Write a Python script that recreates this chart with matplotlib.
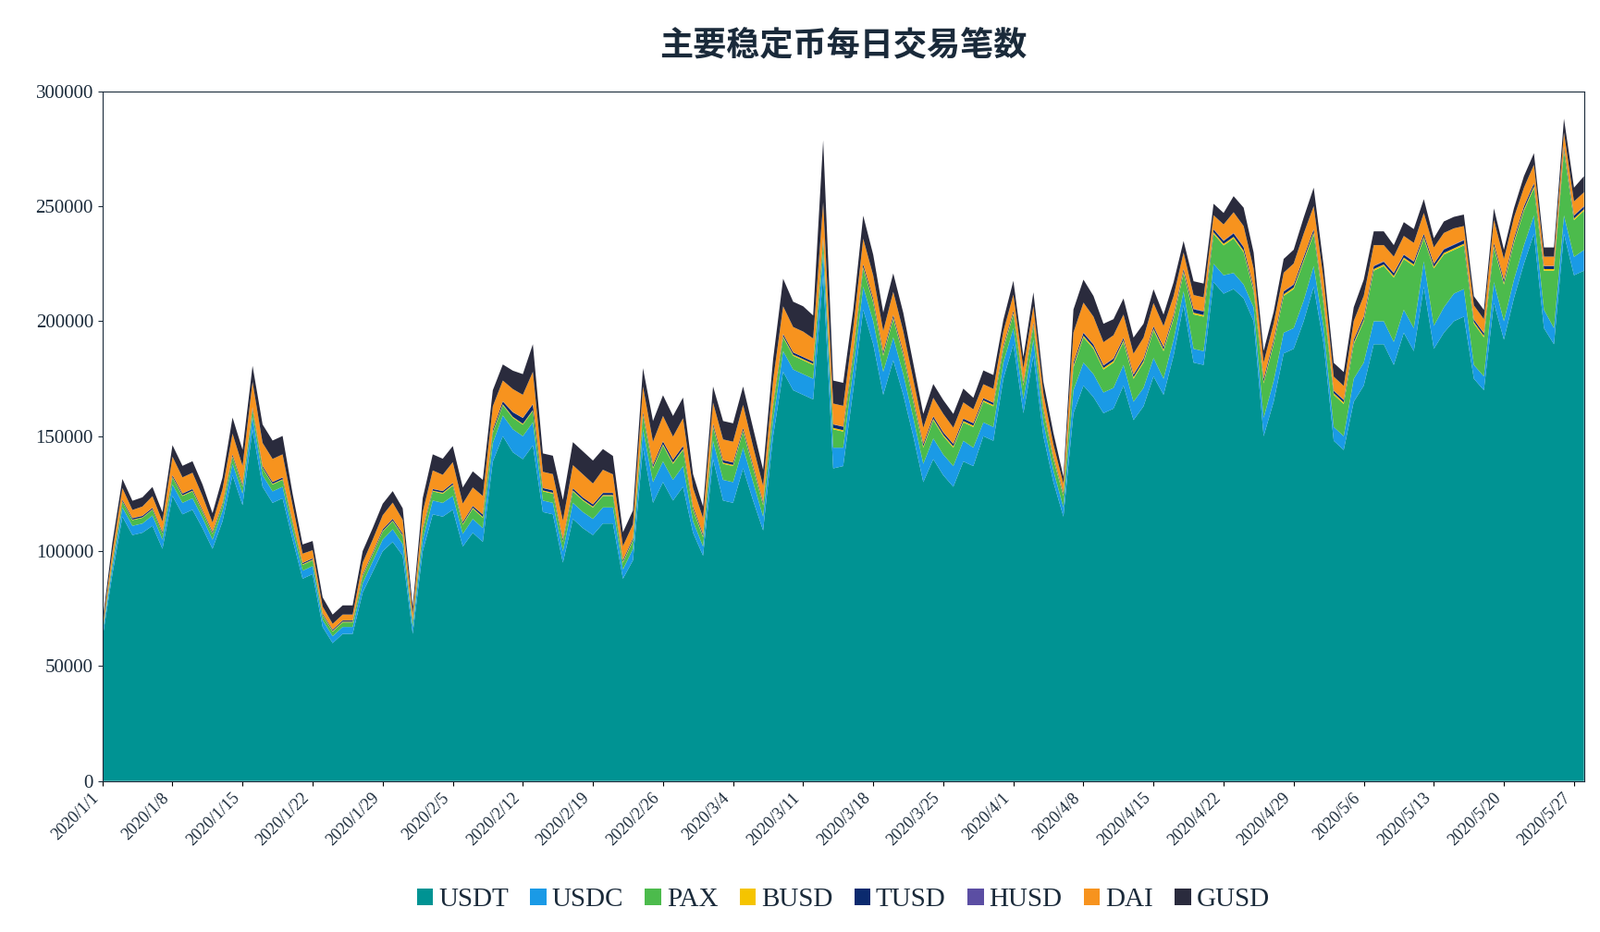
import datetime as dt
import matplotlib.pyplot as plt

start = dt.date(2020, 1, 1)
usdt = [62000, 90000, 115000, 107000, 108000, 111000, 101000, 124000, 116000, 118000,
        110000, 101000, 113000, 133000, 120000, 153000, 128000, 121000, 123000, 105000,
        88000, 90000, 67000, 60000, 64000, 64000, 82000, 91000, 100000, 104000,
        98000, 64000, 100000, 116000, 115000, 118000, 102000, 108000, 104000, 139000,
        150000, 143000, 140000, 146000, 117000, 116000, 95000, 114000, 110000, 107000,
        112000, 112000, 88000, 96000, 145000, 121000, 130000, 122000, 128000, 108000,
        98000, 140000, 122000, 121000, 136000, 122000, 109000, 150000, 178000, 170000,
        168000, 166000, 220000, 136000, 137000, 170000, 205000, 190000, 168000, 183000,
        168000, 150000, 130000, 140000, 133000, 128000, 139000, 137000, 150000, 148000,
        175000, 190000, 160000, 185000, 150000, 130000, 115000, 160000, 172000, 167000,
        160000, 162000, 172000, 157000, 163000, 176000, 168000, 185000, 207000, 182000,
        181000, 217000, 212000, 214000, 210000, 200000, 150000, 165000, 186000, 188000,
        200000, 215000, 190000, 148000, 144000, 165000, 172000, 190000, 190000, 181000,
        195000, 187000, 215000, 188000, 195000, 200000, 202000, 175000, 170000, 208000,
        192000, 210000, 225000, 238000, 197000, 190000, 238000, 220000, 222000]
usdc = [2000, 3000, 4000, 4000, 4000, 4500, 4000, 5000, 5000, 5000,
        4500, 4000, 4500, 5000, 5000, 5500, 5000, 5000, 5000, 4000,
        3500, 3500, 3000, 3000, 3000, 3000, 4000, 4500, 5000, 5500,
        5000, 3000, 5000, 6000, 6000, 6000, 5500, 6000, 6000, 8000,
        9000, 10000, 10000, 10000, 5000, 5000, 5000, 7000, 7000, 7000,
        7000, 7000, 4000, 5000, 8000, 9000, 9000, 9000, 9000, 5000,
        4000, 8000, 9000, 9000, 9000, 8000, 6000, 7000, 9000, 9000,
        9000, 9000, 10000, 9000, 8000, 9000, 10000, 10000, 10000, 10000,
        9000, 8000, 8000, 9000, 9000, 9000, 9000, 8000, 6000, 6000,
        7000, 7000, 6000, 7000, 6000, 5000, 4000, 10000, 10000, 10000,
        9000, 9000, 9000, 8000, 8000, 8000, 7000, 7000, 6000, 6000,
        6000, 8000, 8000, 7000, 6000, 6000, 8000, 9000, 9000, 9000,
        9000, 9000, 7000, 6000, 6000, 10000, 10000, 10000, 10000, 10000,
        10000, 10000, 11000, 10000, 11000, 12000, 12000, 6000, 6000, 9000,
        8000, 8000, 8000, 8000, 8000, 7000, 8000, 8000, 9000]
pax = [1000, 2000, 2500, 2500, 2500, 2500, 2500, 3000, 3000, 3000,
       2500, 2500, 2500, 3000, 3000, 3000, 3000, 3000, 3000, 3000,
       2500, 2500, 2000, 2000, 2000, 2000, 3000, 3000, 3500, 3500,
       3500, 2000, 4000, 4000, 4000, 4500, 4000, 4500, 4500, 4500,
       4500, 5000, 5000, 5000, 4000, 4000, 4000, 5000, 5000, 5000,
       5000, 5000, 3000, 3500, 6000, 6000, 7000, 7000, 7000, 5000,
       4000, 6000, 7000, 7000, 7000, 6000, 5000, 6000, 6000, 6000,
       6000, 6000, 5000, 8000, 7000, 6000, 8000, 8000, 7000, 8000,
       8000, 7000, 7000, 8000, 8000, 8000, 8000, 9000, 9000, 9000,
       6000, 6000, 6000, 6000, 5000, 5000, 5000, 10000, 11000, 11000,
       10000, 11000, 10000, 10000, 11000, 12000, 12000, 9000, 8000, 15000,
       15000, 13000, 13000, 15000, 14000, 7000, 15000, 16000, 16000, 17000,
       17000, 14000, 10000, 14000, 14000, 15000, 18000, 22000, 24000, 28000,
       22000, 27000, 10000, 25000, 23000, 19000, 19000, 18000, 17000, 15000,
       16000, 16000, 15000, 12000, 17000, 25000, 28000, 16000, 17000]
busd = [100, 200, 200, 200, 200, 200, 200, 300, 300, 300,
        300, 300, 300, 300, 300, 300, 300, 300, 300, 300,
        300, 300, 300, 300, 300, 300, 300, 300, 300, 300,
        300, 300, 300, 300, 400, 400, 400, 400, 400, 400,
        400, 400, 400, 400, 400, 400, 400, 400, 400, 400,
        400, 400, 400, 400, 500, 500, 500, 500, 500, 500,
        500, 500, 500, 500, 500, 500, 500, 500, 500, 500,
        500, 500, 600, 600, 600, 600, 600, 600, 600, 600,
        600, 600, 600, 600, 600, 600, 600, 600, 600, 600,
        600, 600, 600, 600, 600, 600, 600, 700, 700, 700,
        700, 700, 700, 700, 700, 700, 700, 700, 700, 700,
        700, 700, 700, 700, 700, 700, 700, 700, 700, 700,
        700, 700, 700, 700, 700, 700, 700, 700, 700, 700,
        700, 700, 700, 700, 700, 700, 700, 700, 700, 700,
        700, 700, 700, 700, 700, 700, 700, 700, 700]
tusd = [300, 500, 600, 600, 600, 600, 600, 700, 700, 700,
        600, 600, 600, 700, 700, 700, 700, 700, 700, 600,
        500, 500, 500, 500, 500, 500, 600, 600, 700, 700,
        700, 500, 700, 700, 700, 700, 700, 700, 1000, 1000,
        1200, 2000, 2500, 2500, 1000, 1000, 800, 900, 900, 900,
        900, 900, 700, 700, 1000, 1000, 1200, 1200, 1200, 900,
        800, 1000, 1000, 1000, 1000, 900, 800, 900, 900, 900,
        900, 900, 1000, 1500, 1500, 1200, 1200, 1200, 1100, 1100,
        1000, 1000, 1000, 1000, 1000, 1000, 1000, 1000, 900, 900,
        900, 900, 800, 900, 800, 700, 700, 1200, 1200, 1100,
        1000, 1000, 1000, 1000, 1000, 1000, 1000, 1000, 1000, 1500,
        1500, 1200, 1200, 1500, 1500, 1000, 1200, 1200, 1200, 1200,
        1200, 1200, 1000, 1000, 1000, 1200, 1200, 1200, 1200, 1200,
        1200, 1200, 1200, 1200, 1500, 1500, 1500, 1000, 1000, 1200,
        1200, 1200, 1200, 1200, 1200, 1200, 1200, 1200, 1200]
husd = [100] * 97 + [200] * 52
dai = [1500, 4000, 5000, 3500, 4000, 5000, 4500, 8000, 7000, 7000,
       6000, 4000, 6000, 9000, 8000, 11000, 10000, 10000, 10000, 7000,
       4000, 3500, 3000, 2500, 2500, 2500, 5000, 5500, 6000, 7000,
       6000, 3000, 7000, 8000, 7000, 9000, 8000, 8000, 8000, 10000,
       9000, 10000, 10000, 14000, 7000, 7000, 8000, 10000, 10000, 9000,
       10000, 8000, 6000, 6000, 11000, 10000, 11000, 10000, 12000, 8000,
       7000, 9000, 9000, 9000, 10000, 8000, 7000, 10000, 12000, 11000,
       11000, 10000, 15000, 9000, 9000, 10000, 11000, 10000, 9000, 10000,
       9000, 8000, 7000, 8000, 8000, 7000, 7000, 6000, 6000, 6000,
       6000, 7000, 6000, 7000, 6000, 5000, 4000, 13000, 13000, 12000,
       10000, 10000, 10000, 9000, 9000, 10000, 9000, 8000, 7000, 6000,
       6000, 6000, 7000, 9000, 9000, 8000, 7000, 7000, 8000, 9000,
       10000, 10000, 9000, 6000, 6000, 8000, 9000, 9000, 7000, 7000,
       8000, 8000, 9000, 7000, 7000, 7000, 6000, 6000, 6000, 10000,
       9000, 9000, 8000, 8000, 4000, 4000, 6000, 6000, 6000]
gusd = [2000, 4000, 4000, 4000, 4000, 4000, 4000, 5000, 5000, 5000,
        5000, 4000, 5000, 7000, 7000, 7000, 8000, 8000, 8000, 5000,
        4000, 4000, 4000, 4000, 4000, 4000, 5000, 5000, 5000, 5000,
        5000, 3000, 6000, 7000, 7000, 7000, 7000, 7000, 7000, 7000,
        7000, 8000, 9000, 12000, 8000, 8000, 9000, 10000, 10000, 10000,
        9000, 8000, 6000, 6000, 8000, 9000, 9000, 9000, 9000, 6000,
        5000, 7000, 8000, 8000, 8000, 8000, 7000, 9000, 12000, 11000,
        11000, 10000, 27000, 10000, 10000, 8000, 10000, 9000, 8000, 8000,
        8000, 7000, 6000, 6000, 6000, 6000, 6000, 5000, 6000, 6000,
        5000, 6000, 5000, 6000, 5000, 5000, 3000, 10000, 10000, 9000,
        8000, 7000, 7000, 7000, 6000, 6000, 5000, 6000, 5000, 6000,
        6000, 5000, 5000, 7000, 8000, 7000, 5000, 5000, 6000, 6000,
        7000, 8000, 6000, 6000, 6000, 6000, 7000, 6000, 6000, 5000,
        6000, 6000, 6000, 4000, 5000, 5000, 5000, 4000, 4000, 5000,
        4000, 4000, 5000, 5000, 4000, 4000, 6000, 6000, 7000]

dates = [start + dt.timedelta(days=i) for i in range(len(usdt))]
names = ['USDT', 'USDC', 'PAX', 'BUSD', 'TUSD', 'HUSD', 'DAI', 'GUSD']
colors = ['#009393', '#1a9ae6', '#4cbb4c', '#f5c400', '#0b2a6e', '#5b4ea3', '#f7931e', '#2a2b3d']

plt.rcParams['font.family'] = ['Liberation Serif', 'Noto Sans CJK SC', 'Noto Sans CJK JP']
fig, ax = plt.subplots(figsize=(17.3, 10.08), dpi=100)
fig.subplots_adjust(left=0.064, right=0.99, top=0.902, bottom=0.162)
ax.stackplot(dates, usdt, usdc, pax, busd, tusd, husd, dai, gusd,
             labels=names, colors=colors, linewidth=0)

ax.set_ylim(0, 300000)
ax.set_yticks(range(0, 300001, 50000))
ax.set_xlim(dates[0], dates[-1])
ticks = [dates[i] for i in range(0, len(dates), 7)]
ax.set_xticks(ticks)
ax.set_xticklabels([f'{d.year}/{d.month}/{d.day}' for d in ticks], rotation=45,
                   ha='right', fontsize=13, color='#1a2a3a')
ax.tick_params(axis='y', labelsize=15, colors='#1a2a3a')
for s in ax.spines.values():
    s.set_color('#1a2a3a')

ax.set_title('主要稳定币每日交易笔数', fontsize=26, fontweight='bold',
             fontfamily=['Noto Sans CJK SC', 'Noto Sans CJK JP', 'Noto Sans CJK TC'],
             color='#1a2a3a', pad=28)
ax.legend(loc='upper center', bbox_to_anchor=(0.5, -0.12), ncol=8, frameon=False,
          fontsize=21, handlelength=0.6, handleheight=0.6, columnspacing=0.8,
          handletextpad=0.2, labelcolor='#1a2a3a')
fig.savefig('out.png')
